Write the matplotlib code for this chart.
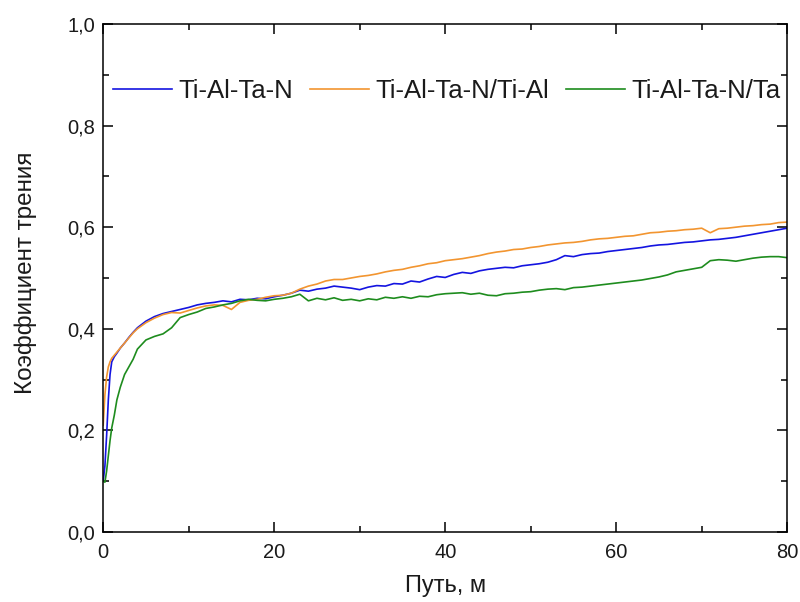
import matplotlib
matplotlib.use('Agg')
import matplotlib.pyplot as plt
from matplotlib.ticker import MultipleLocator, FuncFormatter

plt.rcParams['font.family'] = ['Liberation Sans', 'DejaVu Sans']

# путь, м
path_m = [0, 0.2, 0.4, 0.6, 0.8, 1.0, 1.3, 1.6, 2.0, 2.5, 3.0, 3.5] + list(range(4, 81))

# Ti-Al-Ta-N
mu_tialtan = [0.10, 0.13, 0.19, 0.26, 0.31, 0.335, 0.345, 0.352, 0.362, 0.372, 0.383, 0.393,
              0.402, 0.415, 0.424, 0.430, 0.434, 0.438, 0.442, 0.447, 0.450, 0.452,
              0.455, 0.453, 0.458, 0.457, 0.460, 0.459, 0.463, 0.466, 0.470, 0.476,
              0.474, 0.478, 0.480, 0.484, 0.482, 0.480, 0.477, 0.482, 0.485, 0.484,
              0.489, 0.488, 0.494, 0.492, 0.498, 0.503, 0.501, 0.507, 0.511, 0.509,
              0.514, 0.517, 0.519, 0.521, 0.520, 0.524, 0.526, 0.528, 0.531, 0.536,
              0.544, 0.542, 0.546, 0.548, 0.549, 0.552, 0.554, 0.556, 0.558, 0.560,
              0.563, 0.565, 0.566, 0.568, 0.570, 0.571, 0.573, 0.575, 0.576, 0.578,
              0.580, 0.583, 0.586, 0.589, 0.592, 0.595, 0.598]

# Ti-Al-Ta-N/Ti-Al
mu_tial = [0.21, 0.27, 0.305, 0.325, 0.335, 0.342, 0.348, 0.354, 0.362, 0.372, 0.382, 0.392,
           0.400, 0.412, 0.421, 0.428, 0.432, 0.431, 0.436, 0.441, 0.445, 0.447,
           0.446, 0.438, 0.452, 0.456, 0.458, 0.462, 0.465, 0.466, 0.470, 0.478,
           0.484, 0.488, 0.494, 0.497, 0.497, 0.500, 0.503, 0.505, 0.508, 0.512,
           0.515, 0.517, 0.521, 0.524, 0.528, 0.530, 0.534, 0.536, 0.538, 0.541,
           0.544, 0.548, 0.551, 0.553, 0.556, 0.557, 0.560, 0.562, 0.565, 0.567,
           0.569, 0.570, 0.572, 0.575, 0.577, 0.578, 0.580, 0.582, 0.583, 0.586,
           0.589, 0.590, 0.592, 0.593, 0.595, 0.596, 0.598, 0.589, 0.597, 0.598,
           0.600, 0.602, 0.603, 0.605, 0.606, 0.609, 0.610]

# Ti-Al-Ta-N/Ta
mu_ta = [0.10, 0.098, 0.12, 0.15, 0.18, 0.205, 0.23, 0.26, 0.285, 0.31, 0.325, 0.34,
         0.360, 0.378, 0.385, 0.390, 0.402, 0.422, 0.428, 0.433, 0.440, 0.443,
         0.447, 0.450, 0.455, 0.458, 0.456, 0.455, 0.458, 0.460, 0.463, 0.468,
         0.455, 0.460, 0.457, 0.461, 0.456, 0.458, 0.455, 0.459, 0.457, 0.462,
         0.460, 0.463, 0.460, 0.464, 0.463, 0.467, 0.469, 0.470, 0.471, 0.468,
         0.470, 0.466, 0.465, 0.469, 0.470, 0.472, 0.473, 0.476, 0.478, 0.479,
         0.477, 0.481, 0.482, 0.484, 0.486, 0.488, 0.490, 0.492, 0.494, 0.496,
         0.499, 0.502, 0.506, 0.512, 0.515, 0.518, 0.521, 0.534, 0.536, 0.535,
         0.533, 0.536, 0.539, 0.541, 0.542, 0.542, 0.540]

labels = ['Ti-Al-Ta-N', 'Ti-Al-Ta-N/Ti-Al', 'Ti-Al-Ta-N/Ta']
colors = ['#1414e0', '#f29530', '#1e8c1e']

fig = plt.figure(figsize=(8, 6.02), dpi=100)
ax = fig.add_axes([0.129, 0.1163, 0.855, 0.8439])

for ys, lab, c in zip([mu_tialtan, mu_tial, mu_ta], labels, colors):
    ax.plot(path_m, ys, color=c, lw=1.2, label=lab)

ax.set_xlim(0, 80)
ax.set_ylim(0, 1.0)
ax.xaxis.set_major_locator(MultipleLocator(20))
ax.xaxis.set_minor_locator(MultipleLocator(10))
ax.yaxis.set_major_locator(MultipleLocator(0.2))
ax.yaxis.set_minor_locator(MultipleLocator(0.1))
ax.yaxis.set_major_formatter(FuncFormatter(lambda v, p: f'{v:.1f}'.replace('.', ',')))
ax.xaxis.set_major_formatter(FuncFormatter(lambda v, p: f'{v:.0f}'))

ax.tick_params(which='both', direction='in', top=True, right=True, width=1.1,
               labelsize=14.5, labelcolor='#1a1a1a')
ax.tick_params(which='major', length=7)
ax.tick_params(which='minor', length=4.5)
ax.tick_params(axis='x', pad=8)
ax.tick_params(axis='y', pad=6)
for s in ax.spines.values():
    s.set_linewidth(1.1)

ax.set_xlabel('Путь, м', fontsize=17, color='#1a1a1a')
ax.set_ylabel('Коэффициент трения', fontsize=17.5, color='#1a1a1a')
ax.xaxis.set_label_coords(0.5, -0.085)
ax.yaxis.set_label_coords(-0.097, 0.51)

ax.legend(loc='center left', bbox_to_anchor=(0.0146, 0.868), ncol=3, frameon=False,
          fontsize=18.5, handlelength=2.3, handletextpad=0.25, columnspacing=0.65,
          borderpad=0, borderaxespad=0, labelcolor='#1a1a1a')

fig.savefig('out.png', dpi=100)
